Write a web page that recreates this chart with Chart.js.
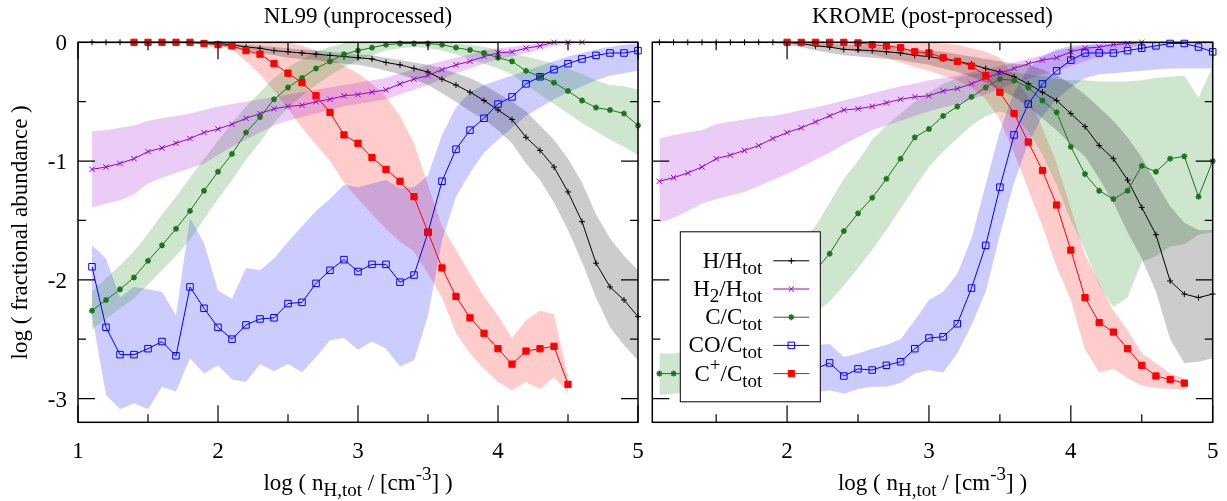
<!DOCTYPE html>
<html>
<head>
<meta charset="utf-8">
<title>Fractional abundances: NL99 vs KROME</title>
<script src="https://cdn.jsdelivr.net/npm/chart.js@4.4.1/dist/chart.umd.min.js"></script>
<style>
  html, body { margin: 0; padding: 0; background: #fff; }
  #wrap { position: relative; width: 1227px; height: 501px; }
  #nl99 { position: absolute; left: 0; top: 0; }
  #krome { position: absolute; left: 645px; top: 0; }
</style>
</head>
<body>
<div id="wrap">
  <canvas id="nl99" width="645" height="501" style="width:645px;height:501px"></canvas>
  <canvas id="krome" width="582" height="501" style="width:582px;height:501px"></canvas>
</div>
<script>
// log(n_H,tot) sampling used by every curve
const logDens = [1.1, 1.2, 1.3, 1.4, 1.5, 1.6, 1.7, 1.8, 1.9, 2.0,
  2.1, 2.2, 2.3, 2.4, 2.5, 2.6, 2.7, 2.8, 2.9, 3.0,
  3.1, 3.2, 3.3, 3.4, 3.5, 3.6, 3.7, 3.8, 3.9, 4.0,
  4.1, 4.2, 4.3, 4.4, 4.5, 4.6, 4.7, 4.8, 4.9, 5.0];

// axis ticks
const xMajorTicks = [1, 2, 3, 4, 5];
const xMinorTicks = [1.5, 2.5, 3.5, 4.5];
const yMajorTicks = [0, -1, -2, -3];
const yMinorTicks = [-0.5, -1.5, -2.5];
const nlXLabels = [1, 2, 3, 4, 5];
const kromeXLabels = [2, 3, 4, 5];
const yLabels = [0, -1, -2, -3];

// ---- NL99 (unprocessed) ----
const nlH = [0, 0, 0, 0, 0, 0, 0, 0, -0.005, -0.01,
  -0.02, -0.04, -0.05, -0.07, -0.08, -0.09, -0.10, -0.11, -0.12, -0.13,
  -0.14, -0.17, -0.19, -0.22, -0.25, -0.31, -0.36, -0.42, -0.49, -0.57,
  -0.65, -0.80, -0.91, -1.05, -1.26, -1.51, -1.86, -2.06, -2.17, -2.31];
const nlHHi = [0, 0, 0, 0, 0, 0, 0, 0, 0, 0,
  -0.01, -0.02, -0.03, -0.04, -0.05, -0.06, -0.07, -0.08, -0.09, -0.10,
  -0.11, -0.13, -0.15, -0.17, -0.19, -0.22, -0.26, -0.30, -0.36, -0.43,
  -0.50, -0.58, -0.70, -0.82, -0.98, -1.18, -1.45, -1.65, -1.80, -1.92];
const nlHLo = [-0.01, -0.01, -0.01, -0.01, -0.01, -0.01, -0.01, -0.01, -0.02, -0.03,
  -0.05, -0.07, -0.09, -0.11, -0.13, -0.14, -0.15, -0.17, -0.18, -0.19,
  -0.21, -0.24, -0.27, -0.31, -0.36, -0.43, -0.50, -0.58, -0.65, -0.74,
  -0.85, -1.02, -1.16, -1.35, -1.58, -1.85, -2.15, -2.40, -2.55, -2.68];

const nlH2 = [-1.07, -1.05, -1.02, -0.98, -0.92, -0.89, -0.85, -0.81, -0.76, -0.73,
  -0.69, -0.64, -0.60, -0.56, -0.54, -0.53, -0.50, -0.48, -0.45, -0.44,
  -0.42, -0.40, -0.35, -0.31, -0.28, -0.23, -0.19, -0.16, -0.12, -0.09,
  -0.08, -0.05, -0.03, 0, 0, 0];
const nlH2Hi = [-0.75, -0.74, -0.72, -0.70, -0.66, -0.64, -0.62, -0.60, -0.57, -0.54,
  -0.52, -0.50, -0.48, -0.46, -0.44, -0.42, -0.40, -0.38, -0.36, -0.34,
  -0.32, -0.30, -0.26, -0.23, -0.19, -0.16, -0.13, -0.10, -0.07, -0.05,
  -0.04, -0.02, -0.01, 0, 0, 0];
const nlH2Lo = [-1.39, -1.36, -1.33, -1.28, -1.19, -1.14, -1.10, -1.06, -1.02, -0.95,
  -0.88, -0.82, -0.76, -0.70, -0.66, -0.63, -0.60, -0.57, -0.54, -0.52,
  -0.50, -0.48, -0.44, -0.40, -0.36, -0.31, -0.26, -0.22, -0.18, -0.14,
  -0.12, -0.09, -0.06, -0.03, -0.01, -0.01];

const nlC = [-2.26, -2.17, -2.08, -1.98, -1.84, -1.71, -1.57, -1.42, -1.25, -1.09,
  -0.94, -0.76, -0.63, -0.48, -0.38, -0.30, -0.22, -0.16, -0.10, -0.07,
  -0.045, -0.02, -0.01, -0.01, -0.01, -0.02, -0.045, -0.065, -0.09, -0.13,
  -0.16, -0.24, -0.29, -0.34, -0.41, -0.49, -0.55, -0.57, -0.60, -0.70];
const nlCHi = [-2.10, -1.99, -1.88, -1.76, -1.61, -1.45, -1.30, -1.14, -0.98, -0.83,
  -0.68, -0.54, -0.42, -0.30, -0.21, -0.14, -0.08, -0.04, -0.01, 0,
  0, 0, 0, 0, 0, 0, -0.01, -0.02, -0.04, -0.06,
  -0.09, -0.12, -0.15, -0.18, -0.22, -0.27, -0.32, -0.36, -0.37, -0.40];
const nlCLo = [-2.42, -2.33, -2.24, -2.16, -2.04, -1.92, -1.80, -1.66, -1.49, -1.32,
  -1.16, -0.99, -0.84, -0.68, -0.55, -0.45, -0.36, -0.28, -0.21, -0.15,
  -0.11, -0.07, -0.05, -0.04, -0.05, -0.07, -0.10, -0.14, -0.18, -0.22,
  -0.27, -0.36, -0.44, -0.52, -0.60, -0.68, -0.75, -0.82, -0.88, -0.95];

const nlCO = [-1.89, -2.40, -2.63, -2.63, -2.58, -2.52, -2.64, -2.06, -2.24, -2.40,
  -2.50, -2.38, -2.33, -2.32, -2.20, -2.19, -2.03, -1.92, -1.83, -1.93,
  -1.87, -1.87, -2.02, -1.96, -1.60, -1.17, -0.90, -0.74, -0.64, -0.52,
  -0.46, -0.35, -0.29, -0.23, -0.18, -0.14, -0.11, -0.09, -0.09, -0.07];
const nlCOHi = [-1.71, -1.82, -2.15, -2.06, -2.08, -2.10, -2.30, -1.48, -1.69, -2.09,
  -2.16, -1.90, -1.92, -1.82, -1.68, -1.55, -1.42, -1.32, -1.20, -1.22,
  -1.19, -1.16, -1.23, -1.22, -1.12, -0.78, -0.55, -0.42, -0.36, -0.32,
  -0.28, -0.24, -0.20, -0.16, -0.12, -0.09, -0.06, -0.04, -0.02, -0.01];
const nlCOLo = [-2.30, -2.97, -3.09, -3.04, -3.09, -2.90, -2.94, -2.66, -2.79, -2.72,
  -2.84, -2.86, -2.71, -2.77, -2.71, -2.78, -2.65, -2.51, -2.49, -2.59,
  -2.52, -2.58, -2.73, -2.68, -2.30, -1.67, -1.30, -1.10, -0.93, -0.82,
  -0.72, -0.62, -0.55, -0.48, -0.42, -0.37, -0.32, -0.28, -0.26, -0.24];

// C+ starts at log n = 1.4
const nlCpDens = logDens.slice(3);
const nlCp = [0, 0, 0, 0, 0, -0.01, -0.02,
  -0.03, -0.07, -0.10, -0.18, -0.26, -0.34, -0.45, -0.59, -0.78, -0.85,
  -0.97, -1.07, -1.17, -1.30, -1.60, -1.90, -2.14, -2.32, -2.45, -2.58,
  -2.71, -2.60, -2.58, -2.56, -2.88];
const nlCpHi = [0, 0, 0, 0, 0, 0, 0,
  0, 0, 0, 0, 0, -0.03, -0.07, -0.13, -0.20, -0.26,
  -0.35, -0.46, -0.62, -0.85, -1.20, -1.55, -1.75, -1.95, -2.14, -2.30,
  -2.49, -2.34, -2.26, -2.29, -2.82];
const nlCpLo = [-0.01, -0.01, -0.01, -0.01, -0.01, -0.02, -0.03,
  -0.06, -0.16, -0.27, -0.41, -0.56, -0.72, -0.86, -1.00, -1.18, -1.32,
  -1.45, -1.57, -1.68, -1.76, -1.95, -2.15, -2.45, -2.62, -2.75, -2.86,
  -2.93, -2.86, -2.92, -2.82, -2.95];

// ---- KROME (post-processed) ----
const krH = [0, 0, 0, 0, 0, 0, 0, 0, 0, 0,
  -0.01, -0.03, -0.04, -0.06, -0.065, -0.07, -0.08, -0.09, -0.11, -0.12,
  -0.14, -0.16, -0.185, -0.22, -0.25, -0.29, -0.35, -0.42, -0.49, -0.60,
  -0.71, -0.87, -0.98, -1.16, -1.39, -1.62, -2.01, -2.12, -2.15, -2.12];
const krHHi = [0, 0, 0, 0, 0, 0, 0, 0, 0, 0,
  0, -0.01, -0.01, -0.02, -0.02, -0.03, -0.04, -0.05, -0.06, -0.07,
  -0.08, -0.10, -0.12, -0.14, -0.16, -0.18, -0.19, -0.23, -0.28, -0.35,
  -0.44, -0.55, -0.66, -0.80, -0.97, -1.18, -1.38, -1.52, -1.58, -1.58];
const krHLo = [-0.005, -0.005, -0.005, -0.005, -0.005, -0.005, -0.005, -0.005, -0.005, -0.02,
  -0.04, -0.07, -0.09, -0.11, -0.12, -0.13, -0.14, -0.15, -0.17, -0.19,
  -0.22, -0.25, -0.29, -0.34, -0.40, -0.46, -0.54, -0.64, -0.74, -0.86,
  -0.96, -1.15, -1.35, -1.60, -1.82, -2.10, -2.50, -2.70, -2.69, -2.66];

const krH2 = [-1.17, -1.14, -1.10, -1.05, -0.98, -0.95, -0.91, -0.87, -0.81, -0.76,
  -0.72, -0.67, -0.62, -0.57, -0.56, -0.54, -0.51, -0.48, -0.46, -0.45,
  -0.41, -0.39, -0.35, -0.30, -0.26, -0.22, -0.18, -0.15, -0.13, -0.08,
  -0.05, -0.04, -0.02, -0.01, 0];
const krH2Hi = [-0.81, -0.78, -0.76, -0.74, -0.69, -0.67, -0.65, -0.63, -0.62, -0.60,
  -0.57, -0.55, -0.52, -0.49, -0.46, -0.43, -0.40, -0.37, -0.35, -0.32,
  -0.30, -0.28, -0.25, -0.23, -0.20, -0.17, -0.14, -0.11, -0.07, -0.05,
  -0.03, -0.02, -0.01, 0, 0];
const krH2Lo = [-1.52, -1.48, -1.42, -1.36, -1.32, -1.29, -1.26, -1.21, -1.16, -1.11,
  -1.05, -0.99, -0.93, -0.86, -0.80, -0.74, -0.70, -0.66, -0.62, -0.58,
  -0.55, -0.52, -0.48, -0.44, -0.39, -0.35, -0.31, -0.27, -0.24, -0.20,
  -0.16, -0.12, -0.08, -0.05, -0.02];

const krC = [-2.79, -2.79, -2.79, -2.78, -2.75, -2.68, -2.58, -2.45, -2.32, -2.20,
  -2.06, -1.92, -1.78, -1.59, -1.44, -1.31, -1.15, -0.98, -0.80, -0.73,
  -0.62, -0.54, -0.46, -0.38, -0.31, -0.32, -0.38, -0.49, -0.59, -0.88,
  -1.11, -1.25, -1.32, -1.25, -1.04, -1.09, -0.98, -0.96, -1.30, -1.00];
const krCHi = [-2.62, -2.62, -2.60, -2.55, -2.45, -2.35, -2.22, -2.08, -1.95, -1.82,
  -1.68, -1.55, -1.35, -1.15, -1.00, -0.82, -0.70, -0.60, -0.50, -0.42,
  -0.35, -0.30, -0.27, -0.25, -0.24, -0.25, -0.27, -0.29, -0.31, -0.32,
  -0.32, -0.33, -0.33, -0.33, -0.32, -0.30, -0.29, -0.28, -0.47, -0.20];
const krCLo = [-2.97, -2.96, -2.95, -2.93, -2.90, -2.85, -2.80, -2.72, -2.62, -2.52,
  -2.40, -2.28, -2.18, -2.05, -1.90, -1.75, -1.58, -1.40, -1.22, -1.05,
  -0.92, -0.81, -0.70, -0.62, -0.58, -0.62, -0.75, -0.95, -1.20, -1.50,
  -1.75, -2.05, -2.23, -2.15, -1.85, -1.80, -1.72, -1.70, -1.62, -1.60];

// CO starts at log n = 2.1
const krCODens = logDens.slice(10);
const krCO = [-2.76, -2.75, -2.70, -2.81, -2.75, -2.76, -2.72, -2.69, -2.58, -2.49,
  -2.48, -2.37, -2.07, -1.71, -1.22, -0.78, -0.52, -0.35, -0.24, -0.15,
  -0.09, -0.09, -0.09, -0.07, -0.05, -0.03, -0.01, -0.01, -0.04, -0.08];
const krCOHi = [-2.55, -2.55, -2.54, -2.65, -2.62, -2.58, -2.55, -2.50, -2.34, -2.17,
  -2.10, -1.95, -1.65, -1.20, -0.75, -0.42, -0.22, -0.12, -0.06, -0.03,
  -0.02, -0.01, -0.01, 0, 0, 0, 0, 0, 0, 0];
const krCOLo = [-2.95, -2.95, -2.93, -2.96, -2.92, -2.90, -2.90, -2.87, -2.79, -2.76,
  -2.78, -2.62, -2.38, -2.10, -1.62, -1.18, -0.85, -0.62, -0.48, -0.38,
  -0.30, -0.27, -0.26, -0.25, -0.24, -0.23, -0.22, -0.22, -0.22, -0.22];

// C+ starts at log n = 2.0
const krCpDens = logDens.slice(9);
const krCp = [0,
  0, 0, 0, 0, -0.005, -0.02, -0.03, -0.045, -0.08, -0.09,
  -0.13, -0.16, -0.20, -0.28, -0.42, -0.60, -0.84, -1.08, -1.37, -1.75,
  -2.15, -2.36, -2.44, -2.58, -2.72, -2.81, -2.84, -2.87];
const krCpHi = [0,
  0, 0, 0, 0, 0, 0, 0, 0, 0, 0,
  -0.01, -0.02, -0.05, -0.08, -0.13, -0.28, -0.46, -0.72, -1.02, -1.40,
  -1.79, -2.03, -2.26, -2.42, -2.62, -2.70, -2.79, -2.83];
const krCpLo = [-0.01,
  -0.02, -0.03, -0.04, -0.06, -0.08, -0.10, -0.13, -0.17, -0.21, -0.24,
  -0.28, -0.32, -0.38, -0.48, -0.65, -0.93, -1.24, -1.55, -1.89, -2.17,
  -2.59, -2.78, -2.75, -2.83, -2.89, -2.91, -2.92, -2.92];

// species styling (line colour, marker)
const SPECIES = {
  H:   { color: '#000000', band: 'rgba(0,0,0,0.2)',       style: 'cross',    radius: 3,   filled: false, bw: 1 },
  H2:  { color: '#9400d3', band: 'rgba(148,0,211,0.2)',   style: 'crossRot', radius: 3.8, filled: false, bw: 1 },
  C:   { color: '#1c751c', band: 'rgba(34,139,34,0.22)',  style: 'star',     radius: 3,   filled: true,  bw: 1.5 },
  CO:  { color: '#0000ff', band: 'rgba(0,0,255,0.2)',     style: 'rect',     radius: 4.6, filled: false, bw: 1 },
  Cp:  { color: '#ff0000', band: 'rgba(255,0,0,0.2)',     style: 'rect',     radius: 4.4, filled: true,  bw: 1 },
};
const LEGEND = [
  ['H', [['H/H'], ['tot', 'sub']]],
  ['H2', [['H'], ['2', 'sub'], ['/H'], ['tot', 'sub']]],
  ['C', [['C/C'], ['tot', 'sub']]],
  ['CO', [['CO/C'], ['tot', 'sub']]],
  ['Cp', [['C'], ['+', 'sup'], ['/C'], ['tot', 'sub']]],
];
const X_TITLE = [['log ( n'], ['H,tot', 'sub'], [' / [cm'], ['-3', 'sup'], ['] )']];

const SERIF = '"Liberation Serif", "Times New Roman", Times, serif';
const MAIN_PX = 23, SMALL_PX = 19;

function pts(xs, ys) {
  return ys.map((v, i) => ({ x: xs[i], y: v }));
}

function band(xs, hi, lo, key) {
  const s = SPECIES[key];
  return [
    { data: pts(xs, hi), borderWidth: 0, borderColor: 'rgba(0,0,0,0)', pointRadius: 0,
      fill: '+1', backgroundColor: s.band, order: 10 },
    { data: pts(xs, lo), borderWidth: 0, borderColor: 'rgba(0,0,0,0)', pointRadius: 0,
      fill: false, order: 10 },
  ];
}

function curve(xs, ys, key, order) {
  const s = SPECIES[key];
  return {
    data: pts(xs, ys), borderColor: s.color, borderWidth: 1, fill: false, clip: false,
    pointStyle: s.style, pointRadius: s.radius, pointBorderWidth: s.bw,
    pointBorderColor: s.color, pointBackgroundColor: s.filled ? s.color : 'rgba(0,0,0,0)',
    order,
  };
}

function richText(ctx, parts, x, y, align) {
  const fontOf = k => (k ? SMALL_PX : MAIN_PX) + 'px ' + SERIF;
  let w = 0;
  for (const [t, k] of parts) { ctx.font = fontOf(k); w += ctx.measureText(t).width; }
  let cx = align === 'right' ? x - w : align === 'center' ? x - w / 2 : x;
  ctx.textAlign = 'left';
  ctx.textBaseline = 'alphabetic';
  for (const [t, k] of parts) {
    ctx.font = fontOf(k);
    const dy = k === 'sub' ? 6 : k === 'sup' ? -10 : 0;
    ctx.fillText(t, cx, y + dy);
    cx += ctx.measureText(t).width;
  }
}

function drawMarker(ctx, key, x, y) {
  const s = SPECIES[key];
  ctx.fillStyle = s.filled ? s.color : 'rgba(0,0,0,0)';
  ctx.strokeStyle = s.color;
  ctx.lineWidth = s.bw;
  Chart.helpers.drawPoint(ctx, { pointStyle: s.style, radius: s.radius, rotation: 0, borderWidth: s.bw }, x, y);
}

// frame, inward ticks, labels, titles and (optionally) the key box
function panelDecor(cfg) {
  return {
    id: 'panelDecor',
    afterDraw(chart) {
      const { ctx, chartArea: a } = chart;
      const xs = chart.scales.x, ys = chart.scales.y;
      ctx.save();
      ctx.strokeStyle = '#000';
      ctx.lineWidth = 1.2;
      ctx.beginPath();
      const xTick = (v, len) => {
        if (v < xs.min || v > xs.max) return;
        const px = xs.getPixelForValue(v);
        ctx.moveTo(px, a.bottom); ctx.lineTo(px, a.bottom - len);
        ctx.moveTo(px, a.top); ctx.lineTo(px, a.top + len);
      };
      const yTick = (v, len) => {
        const py = ys.getPixelForValue(v);
        ctx.moveTo(a.left, py); ctx.lineTo(a.left + len, py);
        ctx.moveTo(a.right, py); ctx.lineTo(a.right - len, py);
      };
      xMajorTicks.forEach(v => xTick(v, 17));
      xMinorTicks.forEach(v => xTick(v, 8));
      yMajorTicks.forEach(v => yTick(v, 17));
      yMinorTicks.forEach(v => yTick(v, 8));
      ctx.stroke();
      ctx.lineWidth = 1.5;
      ctx.strokeRect(a.left, a.top, a.right - a.left, a.bottom - a.top);

      ctx.fillStyle = '#000';
      ctx.font = MAIN_PX + 'px ' + SERIF;
      ctx.textBaseline = 'alphabetic';
      ctx.textAlign = 'center';
      cfg.xLabels.forEach(v => ctx.fillText(String(v), xs.getPixelForValue(v), a.bottom + 36));
      if (cfg.yLabels) {
        ctx.textAlign = 'right';
        cfg.yLabels.forEach(v => ctx.fillText(String(v), a.left - 11, ys.getPixelForValue(v) + 8));
      }
      const mid = (a.left + a.right) / 2;
      ctx.textAlign = 'center';
      ctx.fillText(cfg.title, mid, 23);
      richText(ctx, X_TITLE, mid, 490, 'center');

      if (cfg.yTitle) {
        ctx.save();
        ctx.translate(21, (a.top + a.bottom) / 2);
        ctx.rotate(-Math.PI / 2);
        ctx.font = MAIN_PX + 'px ' + SERIF;
        ctx.textAlign = 'center';
        ctx.textBaseline = 'middle';
        ctx.fillText(cfg.yTitle, 0, 0);
        ctx.restore();
      }

      if (cfg.key) {
        const bx = a.left + 28, by = a.top + 189.5, bw = 140, bh = 170;
        ctx.fillStyle = '#fff';
        ctx.fillRect(bx, by, bw, bh);
        ctx.lineWidth = 1;
        ctx.strokeStyle = '#000';
        ctx.strokeRect(bx, by, bw, bh);
        LEGEND.forEach(([key, parts], i) => {
          const ry = by + 29 + i * 28.2;
          ctx.fillStyle = '#000';
          richText(ctx, parts, bx + 82, ry + 7, 'right');
          ctx.strokeStyle = SPECIES[key].color;
          ctx.lineWidth = 1;
          ctx.beginPath();
          ctx.moveTo(bx + 93, ry); ctx.lineTo(bx + 129, ry);
          ctx.stroke();
          drawMarker(ctx, key, bx + 111, ry);
        });
      }
      ctx.restore();
    }
  };
}

function makePanel(canvasId, datasets, xMin, pad, cfg) {
  return new Chart(document.getElementById(canvasId), {
    type: 'line',
    data: { datasets },
    options: {
      responsive: false,
      animation: false,
      devicePixelRatio: 1,
      events: [],
      layout: { padding: pad },
      scales: {
        x: { type: 'linear', min: xMin, max: 5, display: false },
        y: { type: 'linear', min: -3.2, max: 0, display: false },
      },
      plugins: { legend: { display: false }, tooltip: { enabled: false } },
    },
    plugins: [panelDecor(cfg)],
  });
}

makePanel('nl99', [
  curve(logDens, nlH, 'H', 4),
  curve(logDens, nlH2, 'H2', 3),
  curve(logDens, nlC, 'C', 2),
  curve(logDens, nlCO, 'CO', 1),
  curve(nlCpDens, nlCp, 'Cp', 0),
  ...band(logDens, nlHHi, nlHLo, 'H'),
  ...band(logDens, nlH2Hi, nlH2Lo, 'H2'),
  ...band(logDens, nlCHi, nlCLo, 'C'),
  ...band(logDens, nlCOHi, nlCOLo, 'CO'),
  ...band(nlCpDens, nlCpHi, nlCpLo, 'Cp'),
], 1, { left: 78, top: 42.3, right: 7, bottom: 78.7 },
  { title: 'NL99 (unprocessed)', xLabels: nlXLabels, yLabels: yLabels,
    yTitle: 'log ( fractional abundance )', key: false });

makePanel('krome', [
  curve(logDens, krH, 'H', 4),
  curve(logDens, krH2, 'H2', 3),
  curve(logDens, krC, 'C', 2),
  curve(krCODens, krCO, 'CO', 1),
  curve(krCpDens, krCp, 'Cp', 0),
  ...band(logDens, krHHi, krHLo, 'H'),
  ...band(logDens, krH2Hi, krH2Lo, 'H2'),
  ...band(logDens, krCHi, krCLo, 'C'),
  ...band(krCODens, krCOHi, krCOLo, 'CO'),
  ...band(krCpDens, krCpHi, krCpLo, 'Cp'),
], 1.05, { left: 7.3, top: 42.3, right: 14.3, bottom: 78.7 },
  { title: 'KROME (post-processed)', xLabels: kromeXLabels, yLabels: null,
    yTitle: null, key: true });
</script>
</body>
</html>
